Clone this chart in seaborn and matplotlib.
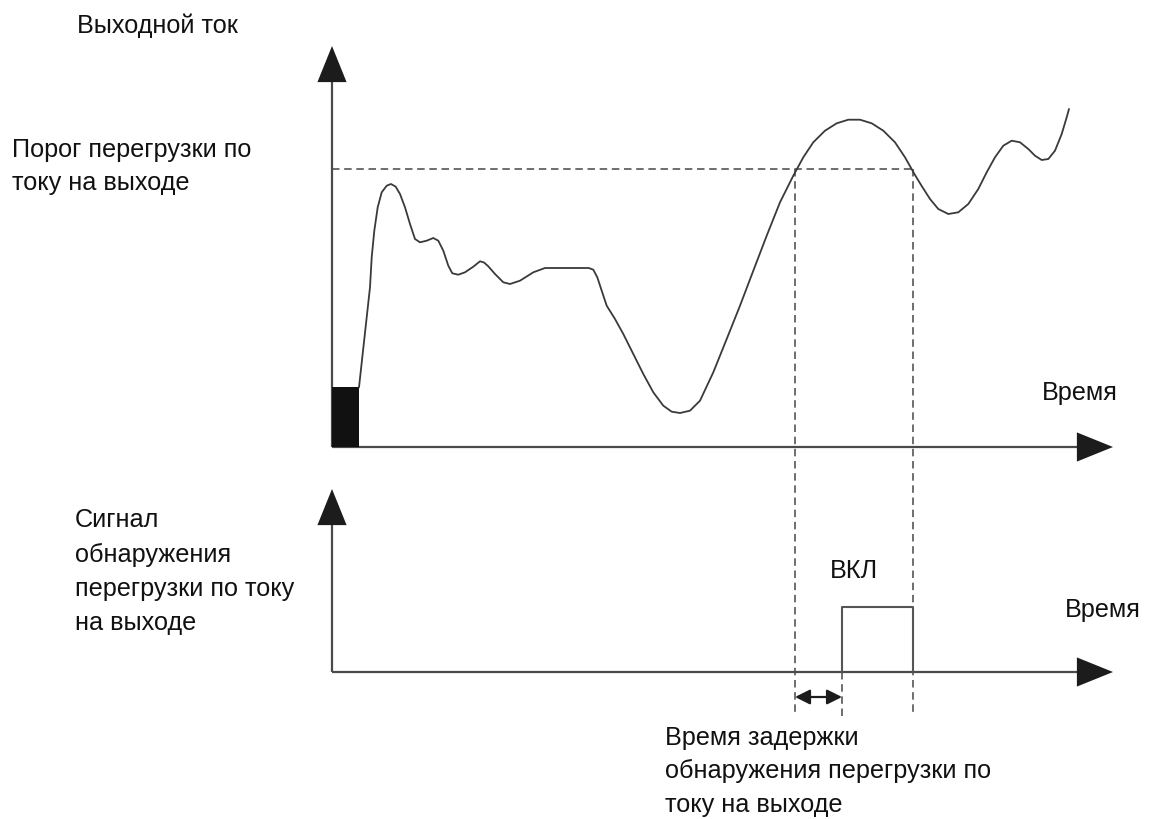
import numpy as np
import matplotlib
matplotlib.use("Agg")
import matplotlib.pyplot as plt
from matplotlib.patches import FancyArrowPatch, Rectangle
import matplotlib.transforms as mtransforms
import seaborn as sns

# ---------------- data (time / current in diagram units, origin at axis corner) -------------
time_vals = [27, 38, 39.7, 42.3, 45.7, 49.7, 54.7, 59, 63.7, 68, 73, 78, 83, 88, 94.7, 101.3,
             106.3, 111.3, 116.3, 120.3, 126.3, 133, 141.3, 148, 152, 156, 163, 171.3, 178,
             188, 201.3, 213, 234.7, 256.7, 261.3, 265.3, 269.7, 274.7, 283, 291.3, 301.3,
             311.3, 321.3, 331.3, 339.7, 348, 358, 368, 381.3, 394.7, 408, 421.3, 434.7, 448,
             461.3, 471.3, 481.3, 493, 504.7, 516.3, 528, 539.7, 551.3, 563, 573, 583, 589.7,
             598, 606.3, 616.3, 626.3, 636.3, 646.3, 654.7, 663, 671.3, 679.7, 688, 696.3,
             703, 709.7, 716.3, 723, 729.7, 734.7, 737]
current_vals = [59.7, 159.7, 189.7, 216.3, 239.7, 254.7, 261.3, 263, 260.3, 253, 239.7, 223,
                208, 204.7, 206.3, 209, 206.3, 196.3, 181.3, 173.7, 172.3, 174.7, 180.3, 185.7,
                184.5, 181, 173, 164.7, 163, 166.3, 174.7, 179, 179, 179, 177.3, 169.7, 156.3,
                141.3, 128, 113, 93, 73, 54.7, 41.3, 35.3, 34, 36.3, 46.3, 74.7, 108, 141.3,
                176.3, 211.3, 244.7, 271.3, 289.7, 304.7, 316.3, 323.7, 327.3, 327.3, 323.7,
                316.3, 304.7, 289.7, 272, 261, 248, 238, 233, 234.7, 243, 258, 274.7, 289.7,
                301.3, 306.3, 304.7, 298, 291.3, 287, 288, 296.3, 313, 329.7, 338]
threshold = 278
start_block = [0, 27]          # time span of initial block
start_block_height = 60
crossing_times = [463, 581]    # where curve crosses the threshold
signal_time = [510, 510, 581, 581]
signal_vals = [0, 65, 65, 0]
delay_span = [463, 510]

labels = {
    "ylabel_top": "Выходной ток",
    "threshold": ["Порог перегрузки по", "току на выходе"],
    "time": "Время",
    "signal": ["Сигнал", "обнаружения", "перегрузки по току", "на выходе"],
    "on": "ВКЛ",
    "delay": ["Время задержки", "обнаружения перегрузки по", "току на выходе"],
}

# ---------------- style ----------------
sns.set_theme(style="white")
plt.rcParams["font.family"] = ["Liberation Sans", "DejaVu Sans"]

W, H = 1150, 820
fig = plt.figure(figsize=(W / 100, H / 100), dpi=100)
ax = fig.add_axes([0, 0, 1, 1])
ax.set_xlim(0, W)
ax.set_ylim(H, 0)
ax.axis("off")

# layout (pixel positions of the two diagram origins)
X0, Y_UP, Y_LO = 332, 448, 673
AX_END = 781          # horizontal axis length
UP_LEN, LO_LEN = 401, 183
DASH_BOTTOM = 717

up = mtransforms.Affine2D().scale(1, -1).translate(X0, Y_UP) + ax.transData
lo = mtransforms.Affine2D().scale(1, -1).translate(X0, Y_LO) + ax.transData

axis_col = "#4a4a4a"
curve_col = "#3a3a3a"
dash_col = "#555555"
head_col = "#1c1c1c"

# axes lines with arrow heads
def axis_arrow(p0, p1, trans):
    a = FancyArrowPatch(p0, p1, transform=trans,
                        arrowstyle="-|>,head_length=26,head_width=10.5",
                        mutation_scale=1, color=head_col, lw=0, zorder=4,
                        shrinkA=0, shrinkB=0)
    ax.add_patch(a)
    ax.plot([p0[0], p1[0] - (26 * 1.39 if p1[0] != p0[0] else 0)],
            [p0[1], p1[1] - (26 * 1.39 if p1[1] != p0[1] else 0)],
            transform=trans, color=axis_col, lw=1.6, zorder=3, solid_capstyle="butt")

axis_arrow((0, 0), (AX_END, 0), up)
axis_arrow((0, 0), (0, UP_LEN), up)
axis_arrow((0, 0), (AX_END, 0), lo)
axis_arrow((0, 0), (0, LO_LEN), lo)

# initial block
ax.add_patch(Rectangle((start_block[0], 0), start_block[1] - start_block[0], start_block_height,
                       transform=up, color="#111111", lw=0, zorder=3))

# current curve
sns.lineplot(x=time_vals, y=current_vals, ax=ax, transform=up, sort=False, estimator=None,
             color=curve_col, linewidth=1.3, zorder=5)

# threshold dashed line
dash = (0, (4.5, 2.8))
ax.plot([0, crossing_times[1]], [threshold, threshold], transform=up,
        color=dash_col, lw=1.2, linestyle=dash, zorder=2)
# vertical dashed lines from threshold crossings down past the lower axis
for t in crossing_times:
    ax.plot([X0 + t, X0 + t], [Y_UP - threshold, DASH_BOTTOM], color=dash_col,
            lw=1.2, linestyle=dash, zorder=2)
# dashed extension of the signal rising edge
ax.plot([X0 + signal_time[0]] * 2, [Y_LO, DASH_BOTTOM], color=dash_col, lw=1.2,
        linestyle=dash, zorder=2)

# signal pulse
sns.lineplot(x=signal_time, y=signal_vals, ax=ax, transform=lo, sort=False, estimator=None,
             color="#555555", linewidth=1.5, zorder=5)

# delay double arrow
ax.add_patch(FancyArrowPatch((delay_span[0], -25), (delay_span[1], -25), transform=lo,
                             arrowstyle="<|-|>,head_length=9,head_width=4.5",
                             mutation_scale=1, color=head_col, lw=1.6,
                             shrinkA=0, shrinkB=0, zorder=5))

# ---------------- texts ----------------
fs = 18.2
tk = dict(fontsize=fs, color="#111111", va="baseline", ha="left")
ax.text(77, 33, labels["ylabel_top"], **tk)
for yb, s in zip([157, 190], labels["threshold"]):
    ax.text(12, yb, s, **tk)
ax.text(1042, 400, labels["time"], **tk)
for yb, s in zip([527, 562, 596, 630], labels["signal"]):
    ax.text(75, yb, s, **tk)
ax.text(830, 578, labels["on"], **tk)
ax.text(1065, 617, labels["time"], **tk)
for yb, s in zip([745, 778, 812], labels["delay"]):
    ax.text(665, yb, s, **tk)

fig.savefig("out.png", dpi=100, facecolor="white")
